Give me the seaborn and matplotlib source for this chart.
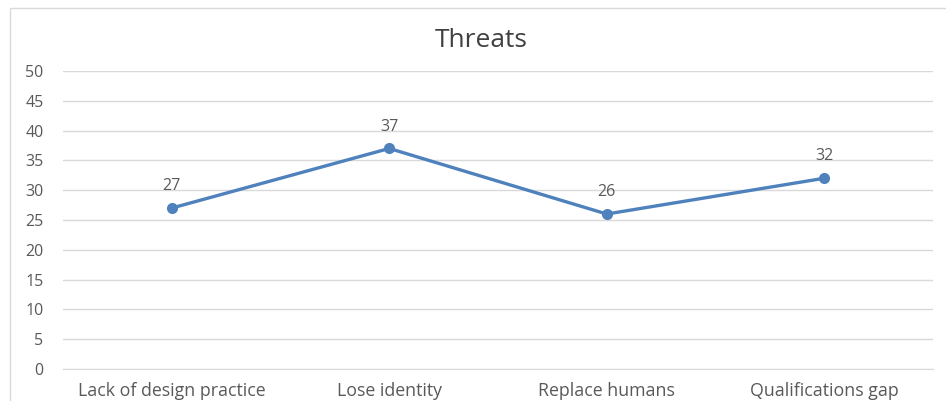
import matplotlib
matplotlib.use("Agg")
import matplotlib.pyplot as plt
import seaborn as sns
import pandas as pd
from matplotlib.patches import Rectangle

# chart values
categories = ["Lack of design practice", "Lose identity", "Replace humans", "Qualifications gap"]
values = [27, 37, 26, 32]
yticks = [0, 5, 10, 15, 20, 25, 30, 35, 40, 45, 50]

df = pd.DataFrame({"threat": categories, "count": values})

sns.set_style("white")
plt.rcParams["font.family"] = ["Open Sans", "DejaVu Sans"]
txt = "#595959"
blue = "#4f81bd"

fig = plt.figure(figsize=(9.46, 4.01), dpi=100)
ax = fig.add_axes([0.0666, 0.0798, 0.9196, 0.7432])

sns.lineplot(data=df, x="threat", y="count", ax=ax, color=blue, linewidth=2.4,
             marker="o", markersize=8, markeredgewidth=0, sort=False)

for i, v in enumerate(values):
    ax.annotate(str(v), (i, v), xytext=(0, 10), textcoords="offset points",
                ha="center", va="bottom", fontsize=11.5, color=txt)

ax.set_xlim(-0.5, len(categories) - 0.5)
ax.set_ylim(0, 50)
ax.set_yticks(yticks)
ax.yaxis.grid(True, color="#d9d9d9", linewidth=1)
ax.set_axisbelow(True)
for s in ["top", "right", "left"]:
    ax.spines[s].set_visible(False)
ax.spines["bottom"].set_color("#d9d9d9")
ax.tick_params(axis="both", length=0, colors=txt)
ax.tick_params(axis="y", pad=14, labelsize=11.5)
ax.tick_params(axis="x", pad=9, labelsize=12.8)
ax.set_xlabel("")
ax.set_ylabel("")

fig.text(0.509, 0.898, "Threats", ha="center", va="center", fontsize=19, color="#404040")

# chart border
fig.patches.append(Rectangle((10 / 946, -0.01), 1.0, 1 - 8 / 401 + 0.01, transform=fig.transFigure,
                             fill=False, edgecolor="#d9d9d9", linewidth=1))

fig.savefig("out.png", dpi=100)
